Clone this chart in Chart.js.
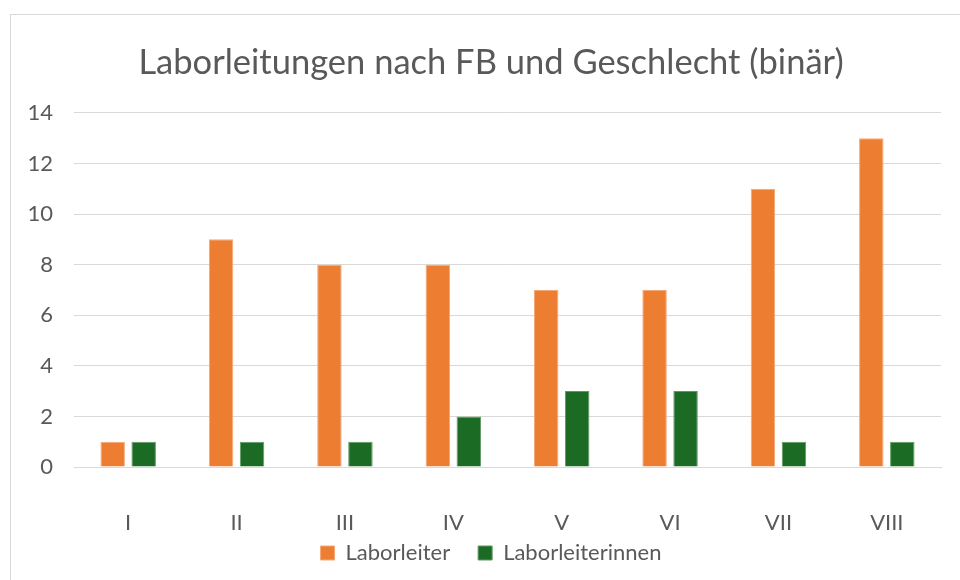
<!DOCTYPE html>
<html><head><meta charset="utf-8">
<script src="https://cdn.jsdelivr.net/npm/chart.js@4/dist/chart.umd.min.js"></script>
<style>
html,body{margin:0;padding:0;background:#fff;overflow:hidden;}
#box{position:absolute;left:10px;top:14px;width:960px;height:580px;border:1px solid #d9d9d9;background:#fff;}
canvas{display:block;}
</style></head><body>
<div id="box"><canvas id="c" width="960" height="580"></canvas></div>
<script>
const categories = ["I","II","III","IV","V","VI","VII","VIII"];
const laborleiter = [1,9,8,8,7,7,11,13];
const laborleiterinnen = [1,1,1,2,3,3,1,1];
const seriesNames = ["Laborleiter","Laborleiterinnen"];
const yTicks = [0,2,4,6,8,10,12,14];

const grey = "#595959";
const font = "Lato, 'Open Sans', sans-serif";
new Chart(document.getElementById('c'), {
  type: 'bar',
  data: {
    labels: categories,
    datasets: [
      {label: seriesNames[0], data: laborleiter, backgroundColor: '#ED7D31', borderColor:'#f4a877', borderWidth:1, yAxisID: 'y'},
      {label: seriesNames[1], data: laborleiterinnen, backgroundColor: '#1C6B25', borderColor:'#5e9a62', borderWidth:1, yAxisID: 'y'}
    ]
  },
  options: {
    responsive: false,
    animation: false,
    layout: {padding: {left: 0, right: 0, top: 0, bottom: 21}},
    datasets: {bar: {categoryPercentage: 0.572, barPercentage: 0.79}},
    plugins: {
      title: {display: true, text: "Laborleitungen nach FB und Geschlecht (binär)", color: grey,
        font: {family: font, size: 34.5, weight: 'normal'}, padding: {top: 27, bottom: 29.5}},
      legend: {position: 'bottom', labels: {color: grey, font: {family: font, size: 22}, boxWidth: 14, boxHeight: 14, padding: 28}},
      tooltip: {enabled: false}
    },
    scales: {
      x: {
        grid: {display: false, drawTicks: false},
        border: {color: '#d9d9d9', width: 1},
        ticks: {color: grey, font: {family: font, size: 22}, padding: -69, mirror: true},
        afterFit: s => { s.height = 47; }
      },
      y: {
        min: 0, max: 14,
        afterBuildTicks: s => { s.ticks = yTicks.map(v => ({value: v})); },
        grid: {color: '#d9d9d9', drawTicks: false},
        border: {display: false},
        ticks: {color: grey, font: {family: font, size: 22}, padding: 21},
        afterFit: s => { s.width = 63; }
      },
      yr: {
        position: 'right', display: true, min: 0, max: 14,
        grid: {display: false, drawTicks: false},
        border: {display: false},
        ticks: {display: false},
        afterFit: s => { s.width = 30; }
      }
    }
  }
});
</script>
</body></html>
